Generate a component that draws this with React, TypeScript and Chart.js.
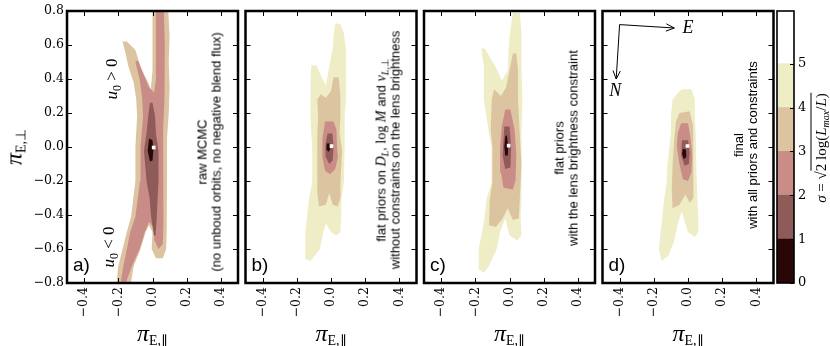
import React, { useEffect, useRef } from 'react';
import { Chart, registerables } from 'chart.js';

Chart.register(...registerables);

type Pt = [number, number];

// ---------------- figure geometry ----------------
const FIG_W = 830;
const FIG_H = 346;
const PANEL_LEFTS = [67, 245.5, 424, 602.5];
const PANEL_W = 171;
const PANEL_TOP = 11;
const PANEL_BOTTOM = 283;
const CB_LEFT = 777;
const CB_RIGHT = 794;
const Y_AXIS_W = 40;
const X_AXIS_H = 40;

// ---------------- axes ----------------
const xLimits: Pt = [-0.5, 0.5];
const yLimits: Pt = [-0.8, 0.8];
const xTickValues = [-0.4, -0.2, 0.0, 0.2, 0.4];
const yTickValues = [-0.8, -0.6, -0.4, -0.2, 0.0, 0.2, 0.4, 0.6, 0.8];

// ---------------- sigma levels / colorbar ----------------
const sigmaColors = ['#2a0707', '#8e5b59', '#c98c86', '#dcc4a0', '#eeedc6', '#ffffff'];
const colorbarEdges = [0, 1, 2, 3, 4, 5, 6.2];
const colorbarTickValues = [0, 1, 2, 3, 4, 5];

// ---------------- panel a: raw MCMC ----------------
const aSigma1: Pt[] = [[-0.02, 0.05], [0.0, 0.04], [0.005, -0.02], [0.0, -0.08], [-0.015, -0.085], [-0.028, -0.02]];
const aSigma2: Pt[] = [[-0.015, 0.26], [0.0, 0.26], [0.015, 0.18], [0.02, 0.08], [0.035, -0.02], [0.035, -0.2], [0.03, -0.3], [0.025, -0.41], [0.018, -0.52], [0.008, -0.52], [-0.008, -0.41], [-0.017, -0.3], [-0.035, -0.2], [-0.05, -0.02], [-0.035, 0.08], [-0.025, 0.18]];
const aSigma3: Pt[] = [[0.02, 0.85], [0.065, 0.85], [0.072, 0.6], [0.07, 0.4], [0.07, 0.28], [0.062, 0.1], [0.064, -0.2], [0.064, -0.45], [0.06, -0.57], [0.035, -0.6], [0.012, -0.55], [0.01, -0.48], [-0.02, -0.44], [-0.045, -0.5], [-0.075, -0.6], [-0.12, -0.7], [-0.155, -0.795], [-0.185, -0.79], [-0.17, -0.7], [-0.15, -0.6], [-0.13, -0.5], [-0.1, -0.41], [-0.073, -0.2], [-0.07, 0.0], [-0.055, 0.18], [-0.06, 0.28], [-0.075, 0.4], [-0.1, 0.5], [-0.085, 0.51], [-0.05, 0.42], [-0.02, 0.35], [0.01, 0.32], [0.02, 0.4]];
const aSigma4: Pt[] = [[0.0, 0.85], [0.09, 0.85], [0.1, 0.65], [0.095, 0.5], [0.1, 0.35], [0.095, 0.2], [0.085, 0.05], [0.085, -0.2], [0.083, -0.5], [0.08, -0.6], [0.06, -0.655], [0.02, -0.655], [-0.005, -0.6], [0.0, -0.5], [-0.02, -0.46], [-0.04, -0.5], [-0.07, -0.6], [-0.11, -0.7], [-0.135, -0.85], [-0.215, -0.85], [-0.2, -0.7], [-0.175, -0.6], [-0.15, -0.5], [-0.125, -0.41], [-0.1, -0.2], [-0.1, 0.0], [-0.09, 0.18], [-0.095, 0.28], [-0.11, 0.38], [-0.14, 0.47], [-0.16, 0.56], [-0.175, 0.62], [-0.15, 0.62], [-0.1, 0.57], [-0.07, 0.47], [-0.025, 0.38], [-0.01, 0.34], [0.0, 0.45]];
const aBest: Pt = [0.007, -0.003];

// ---------------- panel b: flat priors, no brightness constraint ----------------
const bSigma1: Pt[] = [[-0.025, 0.02], [-0.007, 0.02], [-0.005, -0.015], [-0.015, -0.028], [-0.027, -0.015]];
const bSigma2: Pt[] = [[-0.02, 0.08], [0.008, 0.08], [0.015, 0.0], [0.01, -0.08], [-0.01, -0.1], [-0.03, -0.06], [-0.032, 0.02]];
const bSigma3: Pt[] = [[-0.035, 0.15], [0.015, 0.15], [0.032, 0.1], [0.035, 0.0], [0.04, -0.06], [0.025, -0.13], [-0.005, -0.16], [-0.035, -0.14], [-0.05, -0.06], [-0.05, 0.05]];
const bSigma4: Pt[] = [[0.015, 0.41], [0.045, 0.41], [0.055, 0.3], [0.055, 0.18], [0.05, 0.08], [0.065, -0.02], [0.055, -0.21], [0.055, -0.3], [0.04, -0.35], [0.01, -0.34], [-0.01, -0.27], [-0.03, -0.34], [-0.07, -0.35], [-0.08, -0.27], [-0.08, -0.1], [-0.08, 0.08], [-0.075, 0.18], [-0.08, 0.28], [-0.06, 0.31], [-0.03, 0.29], [0.0, 0.33]];
const bSigma5: Pt[] = [[0.026, 0.73], [0.056, 0.72], [0.075, 0.67], [0.087, 0.57], [0.087, 0.38], [0.087, 0.28], [0.08, 0.18], [0.08, 0.0], [0.075, -0.21], [0.06, -0.31], [0.06, -0.41], [0.055, -0.5], [0.03, -0.52], [0.0, -0.5], [-0.03, -0.45], [-0.045, -0.5], [-0.065, -0.6], [-0.12, -0.67], [-0.15, -0.66], [-0.15, -0.5], [-0.14, -0.41], [-0.13, -0.31], [-0.11, -0.21], [-0.11, 0.0], [-0.115, 0.08], [-0.12, 0.18], [-0.12, 0.28], [-0.12, 0.38], [-0.115, 0.48], [-0.085, 0.48], [-0.06, 0.42], [-0.03, 0.36], [-0.015, 0.45], [0.009, 0.57], [0.017, 0.67]];
const bBest: Pt = [0.003, 0.005];

// ---------------- panel c: flat priors with brightness constraint ----------------
const cSigma1: Pt[] = [[-0.025, 0.06], [-0.015, 0.07], [-0.008, 0.0], [-0.01, -0.05], [-0.025, -0.05], [-0.03, 0.0]];
const cSigma2: Pt[] = [[-0.03, 0.12], [0.0, 0.12], [0.01, 0.0], [0.005, -0.12], [-0.025, -0.13], [-0.04, -0.05], [-0.035, 0.05]];
const cSigma3: Pt[] = [[-0.025, 0.22], [0.005, 0.22], [0.03, 0.1], [0.04, -0.05], [0.035, -0.2], [0.02, -0.25], [-0.035, -0.24], [-0.05, -0.15], [-0.055, 0.0], [-0.045, 0.12]];
const cSigma4: Pt[] = [[0.02, 0.55], [0.04, 0.55], [0.05, 0.45], [0.05, 0.28], [0.06, 0.08], [0.07, -0.1], [0.06, -0.31], [0.055, -0.42], [0.02, -0.43], [-0.01, -0.36], [-0.04, -0.42], [-0.08, -0.47], [-0.12, -0.46], [-0.115, -0.31], [-0.1, -0.21], [-0.1, 0.0], [-0.11, 0.1], [-0.104, 0.28], [-0.09, 0.34], [-0.05, 0.3], [-0.02, 0.35], [0.0, 0.45]];
const cSigma5: Pt[] = [[0.02, 0.79], [0.06, 0.79], [0.07, 0.67], [0.07, 0.47], [0.075, 0.28], [0.07, 0.08], [0.07, -0.21], [0.07, -0.31], [0.065, -0.41], [0.07, -0.52], [0.045, -0.55], [0.0, -0.52], [-0.025, -0.42], [-0.055, -0.5], [-0.075, -0.6], [-0.12, -0.7], [-0.15, -0.74], [-0.18, -0.72], [-0.18, -0.6], [-0.16, -0.5], [-0.145, -0.41], [-0.135, -0.31], [-0.105, -0.21], [-0.105, 0.0], [-0.12, 0.08], [-0.15, 0.28], [-0.15, 0.47], [-0.165, 0.58], [-0.145, 0.58], [-0.08, 0.47], [-0.045, 0.39], [-0.01, 0.45], [-0.006, 0.57], [0.003, 0.67]];
const cBest: Pt = [-0.005, 0.008];

// ---------------- panel d: final ----------------
const dSigma1: Pt[] = [[-0.03, -0.01], [-0.012, -0.015], [-0.01, -0.06], [-0.025, -0.07], [-0.035, -0.04]];
const dSigma2: Pt[] = [[-0.035, 0.04], [0.0, 0.04], [0.01, -0.03], [0.005, -0.1], [-0.02, -0.11], [-0.04, -0.05]];
const dSigma3: Pt[] = [[-0.04, 0.14], [0.0, 0.14], [0.015, 0.05], [0.025, -0.05], [0.02, -0.15], [0.0, -0.2], [-0.03, -0.19], [-0.05, -0.1], [-0.065, 0.0], [-0.06, 0.08]];
const dSigma4: Pt[] = [[-0.05, 0.2], [0.01, 0.21], [0.03, 0.12], [0.035, 0.0], [0.03, -0.15], [0.03, -0.3], [0.01, -0.33], [-0.015, -0.28], [-0.05, -0.34], [-0.09, -0.36], [-0.095, -0.25], [-0.09, -0.1], [-0.08, 0.05], [-0.07, 0.15]];
const dSigma5: Pt[] = [[-0.03, 0.34], [0.02, 0.34], [0.04, 0.28], [0.04, 0.18], [0.045, 0.08], [0.05, -0.16], [0.055, -0.31], [0.06, -0.41], [0.06, -0.5], [0.04, -0.53], [0.0, -0.5], [-0.037, -0.38], [-0.06, -0.45], [-0.08, -0.55], [-0.115, -0.64], [-0.155, -0.67], [-0.17, -0.6], [-0.16, -0.5], [-0.15, -0.41], [-0.14, -0.31], [-0.125, -0.21], [-0.12, -0.1], [-0.1, 0.08], [-0.1, 0.18], [-0.09, 0.28], [-0.05, 0.33]];
const dBest: Pt = [-0.003, 0.006];

// compass (panel d) and u0 annotations (panel a), in data units
const compassOrigin: Pt = [-0.4, 0.72];
const compassEast: Pt = [-0.08, 0.7];
const compassNorth: Pt = [-0.42, 0.4];
const compassEastLabel: Pt = [0.0, 0.7];
const compassNorthLabel: Pt = [-0.425, 0.33];
const u0PosLabel: Pt = [-0.237, 0.4];
const u0NegLabel: Pt = [-0.254, -0.59];

type PanelSpec = {
  regions: (Pt[] | null)[];
  best: Pt;
  compass: boolean;
  showY: boolean;
};

const panels: PanelSpec[] = [
  { regions: [aSigma1, aSigma2, aSigma3, aSigma4, null], best: aBest, compass: false, showY: true },
  { regions: [bSigma1, bSigma2, bSigma3, bSigma4, bSigma5], best: bBest, compass: false, showY: false },
  { regions: [cSigma1, cSigma2, cSigma3, cSigma4, cSigma5], best: cBest, compass: false, showY: false },
  { regions: [dSigma1, dSigma2, dSigma3, dSigma4, dSigma5], best: dBest, compass: true, showY: false },
];

const fmtTick = (v: number) => (v < -1e-9 ? '\u2212' : '') + Math.abs(v).toFixed(1);
const SERIF = '"DejaVu Serif", serif';
const MATH = '"Liberation Serif", serif';
const SANS = '"Liberation Sans", Arial, sans-serif';

function dataToPx(panel: number, p: Pt): Pt {
  const x = PANEL_LEFTS[panel] + ((p[0] - xLimits[0]) / (xLimits[1] - xLimits[0])) * PANEL_W;
  const y = PANEL_TOP + ((yLimits[1] - p[1]) / (yLimits[1] - yLimits[0])) * (PANEL_BOTTOM - PANEL_TOP);
  return [x, y];
}

function drawArrow(ctx: CanvasRenderingContext2D, x0: number, y0: number, x1: number, y1: number) {
  const ang = Math.atan2(y1 - y0, x1 - x0);
  const L = 9;
  const a = 0.42;
  ctx.beginPath();
  ctx.moveTo(x0, y0);
  ctx.lineTo(x1, y1);
  ctx.moveTo(x1 - L * Math.cos(ang - a), y1 - L * Math.sin(ang - a));
  ctx.lineTo(x1, y1);
  ctx.lineTo(x1 - L * Math.cos(ang + a), y1 - L * Math.sin(ang + a));
  ctx.stroke();
}

function makePanelPlugin(spec: PanelSpec) {
  return {
    id: 'panelFrame',
    afterDatasetsDraw(chart: any) {
      const { ctx, chartArea: a, scales } = chart;
      const xs = scales.x;
      const ys = scales.y;
      ctx.save();
      ctx.strokeStyle = '#000';
      ctx.lineWidth = 1;
      const T = 5;
      ctx.beginPath();
      for (const v of xTickValues) {
        const px = Math.round(xs.getPixelForValue(v)) + 0.5;
        ctx.moveTo(px, a.bottom);
        ctx.lineTo(px, a.bottom - T);
        ctx.moveTo(px, a.top);
        ctx.lineTo(px, a.top + T);
      }
      for (const v of yTickValues) {
        const py = Math.round(ys.getPixelForValue(v)) + 0.5;
        ctx.moveTo(a.left, py);
        ctx.lineTo(a.left + T, py);
        ctx.moveTo(a.right, py);
        ctx.lineTo(a.right - T, py);
      }
      ctx.stroke();
      if (spec.compass) {
        const ox = xs.getPixelForValue(compassOrigin[0]);
        const oy = ys.getPixelForValue(compassOrigin[1]);
        ctx.lineWidth = 1;
        drawArrow(ctx, ox, oy, xs.getPixelForValue(compassEast[0]), ys.getPixelForValue(compassEast[1]));
        drawArrow(ctx, ox, oy, xs.getPixelForValue(compassNorth[0]), ys.getPixelForValue(compassNorth[1]));
        ctx.fillStyle = '#000';
        ctx.font = 'italic 18px ' + MATH;
        ctx.textAlign = 'center';
        ctx.textBaseline = 'middle';
        ctx.fillText('E', xs.getPixelForValue(compassEastLabel[0]), ys.getPixelForValue(compassEastLabel[1]));
        ctx.fillText('N', xs.getPixelForValue(compassNorthLabel[0]), ys.getPixelForValue(compassNorthLabel[1]));
      }
      ctx.lineWidth = 2.5;
      ctx.strokeRect(a.left, a.top, a.right - a.left, a.bottom - a.top);
      ctx.restore();
    },
  };
}

function PanelChart({ spec, index }: { spec: PanelSpec; index: number }) {
  const ref = useRef<HTMLCanvasElement>(null);
  useEffect(() => {
    const canvas = ref.current;
    if (!canvas) return;
    const datasets: any[] = [];
    datasets.push({
      label: 'best fit',
      data: [{ x: spec.best[0], y: spec.best[1] }],
      pointStyle: 'rect',
      pointRadius: 2.6,
      backgroundColor: '#ffffff',
      borderColor: '#ffffff',
      borderWidth: 0,
      showLine: false,
      order: 0,
    });
    spec.regions.forEach((poly, i) => {
      if (!poly) return;
      datasets.push({
        label: 'sigma < ' + (i + 1),
        data: poly.map(([x, y]) => ({ x, y })),
        showLine: true,
        fill: 'shape',
        backgroundColor: sigmaColors[i],
        borderColor: 'rgba(0,0,0,0)',
        borderWidth: 0,
        pointRadius: 0,
        tension: 0,
        order: i + 1,
      });
    });
    const left = PANEL_LEFTS[index];
    const chart = new Chart(canvas, {
      type: 'scatter',
      data: { datasets },
      options: {
        responsive: false,
        animation: false,
        devicePixelRatio: 1,
        events: [],
        layout: {
          autoPadding: false,
          padding: {
            left: left - Y_AXIS_W,
            right: FIG_W - (left + PANEL_W),
            top: PANEL_TOP,
            bottom: FIG_H - PANEL_BOTTOM - X_AXIS_H,
          },
        },
        plugins: { legend: { display: false }, tooltip: { enabled: false } },
        scales: {
          x: {
            type: 'linear',
            min: xLimits[0],
            max: xLimits[1],
            afterBuildTicks: (s: any) => {
              s.ticks = xTickValues.map((v) => ({ value: v }));
            },
            afterFit: (s: any) => {
              s.height = X_AXIS_H;
              s.paddingLeft = 0;
              s.paddingRight = 0;
              s.paddingTop = 0;
              s.paddingBottom = 0;
            },
            grid: { display: false, drawTicks: false },
            border: { display: false },
            ticks: {
              minRotation: 90,
              maxRotation: 90,
              autoSkip: false,
              padding: 4,
              color: '#000',
              font: { family: SERIF, size: 12.5 },
              callback: (v: any) => fmtTick(Number(v)),
            },
          },
          y: {
            type: 'linear',
            min: yLimits[0],
            max: yLimits[1],
            afterBuildTicks: (s: any) => {
              s.ticks = yTickValues.map((v) => ({ value: v }));
            },
            afterFit: (s: any) => {
              s.width = Y_AXIS_W;
              s.paddingLeft = 0;
              s.paddingRight = 0;
              s.paddingTop = 0;
              s.paddingBottom = 0;
            },
            grid: { display: false, drawTicks: false },
            border: { display: false },
            ticks: {
              display: spec.showY,
              autoSkip: false,
              padding: 3,
              color: '#000',
              font: { family: SERIF, size: 12.5 },
              callback: (v: any) => fmtTick(Number(v)),
            },
          },
        },
      } as any,
      plugins: [makePanelPlugin(spec)],
    });
    return () => chart.destroy();
  }, [spec, index]);
  return <canvas ref={ref} width={FIG_W} height={FIG_H} style={{ position: 'absolute', left: 0, top: 0 }} />;
}

const colorbarPlugin = {
  id: 'cbFrame',
  afterDatasetsDraw(chart: any) {
    const { ctx, chartArea: a, scales } = chart;
    ctx.save();
    ctx.strokeStyle = '#000';
    ctx.lineWidth = 1;
    ctx.beginPath();
    for (const v of colorbarTickValues) {
      const py = Math.round(scales.y.getPixelForValue(v)) + 0.5;
      ctx.moveTo(a.right, py);
      ctx.lineTo(a.right - 4, py);
    }
    ctx.stroke();
    ctx.lineWidth = 1.6;
    ctx.strokeRect(a.left, a.top, a.right - a.left, a.bottom - a.top);
    ctx.restore();
  },
};

function ColorbarChart() {
  const ref = useRef<HTMLCanvasElement>(null);
  useEffect(() => {
    const canvas = ref.current;
    if (!canvas) return;
    const datasets = sigmaColors.map((c, i) => ({
      label: i + '\u2013' + (i + 1),
      data: [[colorbarEdges[i], colorbarEdges[i + 1]]],
      backgroundColor: c,
      borderWidth: 0,
      barPercentage: 1,
      categoryPercentage: 1,
      grouped: false,
    }));
    const CB_AXIS_W = 30;
    const chart = new Chart(canvas, {
      type: 'bar',
      data: { labels: ['\u03c3'], datasets },
      options: {
        responsive: false,
        animation: false,
        devicePixelRatio: 1,
        events: [],
        layout: {
          autoPadding: false,
          padding: { left: CB_LEFT, right: FIG_W - CB_RIGHT - CB_AXIS_W, top: PANEL_TOP, bottom: FIG_H - PANEL_BOTTOM },
        },
        plugins: { legend: { display: false }, tooltip: { enabled: false } },
        scales: {
          x: {
            display: false,
            afterFit: (s: any) => {
              s.height = 0;
            },
          },
          y: {
            position: 'right',
            min: colorbarEdges[0],
            max: colorbarEdges[colorbarEdges.length - 1],
            afterBuildTicks: (s: any) => {
              s.ticks = colorbarTickValues.map((v) => ({ value: v }));
            },
            afterFit: (s: any) => {
              s.width = CB_AXIS_W;
              s.paddingTop = 0;
              s.paddingBottom = 0;
            },
            grid: { display: false, drawTicks: false },
            border: { display: false },
            ticks: {
              padding: 4,
              color: '#000',
              font: { family: SERIF, size: 13 },
              callback: (v: any) => String(v),
            },
          },
        },
      } as any,
      plugins: [colorbarPlugin],
    });
    return () => chart.destroy();
  }, []);
  return <canvas ref={ref} width={FIG_W} height={FIG_H} style={{ position: 'absolute', left: 0, top: 0 }} />;
}

const Rot = ({ x, y, style, children }: { x: number; y: number; style?: React.CSSProperties; children: React.ReactNode }) => (
  <div
    style={{
      position: 'absolute',
      left: x,
      top: y,
      transform: 'translate(-50%, -50%) rotate(-90deg)',
      whiteSpace: 'nowrap',
      ...style,
    }}
  >
    {children}
  </div>
);

const Mi = ({ children, size = 14 }: { children: React.ReactNode; size?: number }) => (
  <span style={{ fontFamily: MATH, fontStyle: 'italic', fontSize: size }}>{children}</span>
);
const Sub = ({ children, size = 10 }: { children: React.ReactNode; size?: number }) => (
  <span style={{ fontSize: size, verticalAlign: '-0.3em', lineHeight: 0 }}>{children}</span>
);

const annoStyle: React.CSSProperties = { fontFamily: SANS, fontSize: 13, lineHeight: '13.5px', textAlign: 'center', color: '#000' };

export default function App() {
  const panelLetters = ['a)', 'b)', 'c)', 'd)'];
  const annoCenterY = [152, 150, 148, 145];
  const u0p = dataToPx(0, u0PosLabel);
  const u0n = dataToPx(0, u0NegLabel);
  return (
    <div style={{ position: 'absolute', left: 0, top: 0, width: FIG_W, height: FIG_H, background: '#fff', overflow: 'hidden' }}>
      {panels.map((p, i) => (
        <PanelChart key={i} spec={p} index={i} />
      ))}
      <ColorbarChart />

      {/* panel letters */}
      {panelLetters.map((t, i) => (
        <div key={t} style={{ position: 'absolute', left: PANEL_LEFTS[i] + 6, top: 255, fontFamily: SANS, fontSize: 19, lineHeight: '19px' }}>
          {t}
        </div>
      ))}

      {/* rotated panel descriptions */}
      <Rot x={PANEL_LEFTS[0] + PANEL_W - 29} y={annoCenterY[0]} style={annoStyle}>
        <div>raw MCMC</div>
        <div>(no unboud orbits, no negative blend flux)</div>
      </Rot>
      <Rot x={PANEL_LEFTS[1] + PANEL_W - 29} y={annoCenterY[1]} style={annoStyle}>
        <div>
          flat priors on <Mi>D</Mi>
          <Sub>
            <Mi size={10}>L</Mi>
          </Sub>
          , <span style={{ fontFamily: MATH, fontSize: 14 }}>log</span> <Mi>M</Mi> and <Mi>v</Mi>
          <Sub>
            <Mi size={10}>L</Mi>
            <span style={{ fontFamily: MATH }}>,⊥</span>
          </Sub>
        </div>
        <div>without constraints on the lens brightness</div>
      </Rot>
      <Rot x={PANEL_LEFTS[2] + PANEL_W - 29} y={annoCenterY[2]} style={annoStyle}>
        <div>flat priors</div>
        <div>with the lens brightness constraint</div>
      </Rot>
      <Rot x={PANEL_LEFTS[3] + PANEL_W - 29} y={annoCenterY[3]} style={annoStyle}>
        <div>final</div>
        <div>with all priors and constraints</div>
      </Rot>

      {/* u0 annotations */}
      <Rot x={u0p[0]} y={u0p[1]} style={{ fontFamily: MATH, fontSize: 17 }}>
        <i>u</i>
        <Sub size={12}>0</Sub> &gt; 0
      </Rot>
      <Rot x={u0n[0]} y={u0n[1]} style={{ fontFamily: MATH, fontSize: 17 }}>
        <i>u</i>
        <Sub size={12}>0</Sub> &lt; 0
      </Rot>

      {/* axis titles */}
      <Rot x={14} y={(PANEL_TOP + PANEL_BOTTOM) / 2} style={{ fontFamily: MATH, fontSize: 24 }}>
        <i>π</i>
        <Sub size={14}>E,⊥</Sub>
      </Rot>
      {PANEL_LEFTS.map((l, i) => (
        <div
          key={'xt' + i}
          style={{
            position: 'absolute',
            left: l + PANEL_W / 2,
            top: 333,
            transform: 'translate(-50%, -50%)',
            whiteSpace: 'nowrap',
            fontFamily: MATH,
            fontSize: 24,
            lineHeight: '24px',
          }}
        >
          <i>π</i>
          <Sub size={14}>E,∥</Sub>
        </div>
      ))}

      {/* colorbar label */}
      <Rot x={821} y={148} style={{ fontFamily: MATH, fontSize: 15 }}>
        <i>σ</i> = √<span style={{ borderTop: '1px solid #000', paddingTop: 1 }}>2 log(<i>L</i><Sub size={10}><i>max</i></Sub>/<i>L</i>)</span>
      </Rot>
    </div>
  );
}
